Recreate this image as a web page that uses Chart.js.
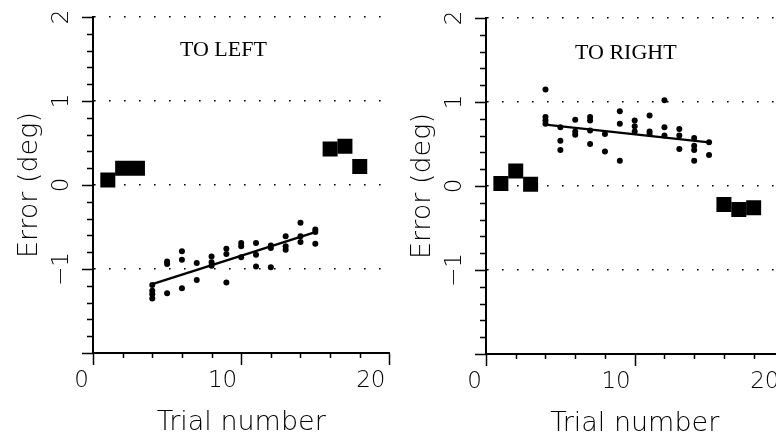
<!DOCTYPE html>
<html>
<head>
<meta charset="utf-8">
<script src="https://cdn.jsdelivr.net/npm/chart.js@4.4.0/dist/chart.umd.min.js"></script>
<style>
html,body{margin:0;padding:0;background:#fff;}
#wrap{position:relative;width:776px;height:434px;overflow:hidden;background:#fff;}
canvas{position:absolute;top:0;}
#c1{left:0;width:400px;height:434px;}
#c2{left:393px;top:1px;width:401px;height:434px;}
</style>
</head>
<body>
<div id="wrap">
<canvas id="c1" width="400" height="434"></canvas>
<canvas id="c2" width="401" height="434"></canvas>
</div>
<script>
// ---------- data ----------
const panelTitles = ['TO LEFT', 'TO RIGHT'];

const xTickValues = [0, 10, 20];
const xTickLabels = ['0', '10', '20'];
const yTickValues = [-2, -1, 0, 1, 2];
const yTickLabels = ['', '\u22121', '0', '1', '2'];

const squareX = [1, 2, 3, 16, 17, 18];
const leftSquareY = [0.06, 0.20, 0.20, 0.43, 0.46, 0.22];
const rightSquareY = [0.03, 0.18, 0.02, -0.22, -0.28, -0.26];

const leftDotX = [4, 4, 4, 4, 5, 5, 5, 6, 6, 6, 7, 7, 8, 8, 8, 9, 9, 9,
                  10, 10, 10, 11, 11, 11, 12, 12, 12, 13, 13, 13, 14, 14, 14, 15, 15, 15];
const leftDotY = [-1.19, -1.26, -1.30, -1.35, -0.91, -0.94, -1.29, -0.79, -0.89, -1.23,
                  -0.93, -1.13, -0.85, -0.92, -0.96, -0.76, -0.82, -1.16,
                  -0.69, -0.73, -0.86, -0.69, -0.83, -0.97, -0.72, -0.75, -0.98,
                  -0.61, -0.73, -0.77, -0.45, -0.61, -0.68, -0.53, -0.56, -0.70];

const rightDotX = [4, 4, 4, 4, 5, 5, 5, 6, 6, 6, 7, 7, 7, 7, 8, 8, 9, 9, 9,
                   10, 10, 10, 11, 11, 11, 12, 12, 12, 13, 13, 13, 14, 14, 14, 14, 15, 15];
const rightDotY = [1.15, 0.82, 0.78, 0.74, 0.70, 0.54, 0.43, 0.79, 0.65, 0.61,
                   0.82, 0.78, 0.66, 0.50, 0.62, 0.41, 0.89, 0.74, 0.30,
                   0.78, 0.71, 0.65, 0.84, 0.65, 0.62, 1.02, 0.70, 0.60,
                   0.68, 0.60, 0.44, 0.57, 0.48, 0.43, 0.30, 0.52, 0.37];

const leftFitX = [4, 15];
const leftFitY = [-1.18, -0.56];
const rightFitX = [4, 15];
const rightFitY = [0.73, 0.52];

// ---------- helpers ----------
const FONT = "'DejaVu Sans', sans-serif";
function pts(xs, ys) { return xs.map((x, i) => ({x: x, y: ys[i]})); }

const axisDecor = {
  id: 'axisDecor',
  afterDraw(chart, args, opts) {
    const {ctx, chartArea: a} = chart;
    const x = chart.scales.x, y = chart.scales.y;
    ctx.save();
    ctx.strokeStyle = '#000';
    ctx.lineWidth = 1.5;
    ctx.beginPath();
    for (let i = 0; i <= 10; i++) {
      const v = i * 2;
      const px = Math.round(x.getPixelForValue(v)) + 0.5;
      const len = (v % 10 === 0) ? 12 : 5;
      ctx.moveTo(px, a.bottom);
      ctx.lineTo(px, a.bottom + len);
    }
    for (let i = -10; i <= 10; i++) {
      const py = Math.round(y.getPixelForValue(i / 5)) + 0.5;
      const len = (i % 5 === 0) ? 11 : 6;
      ctx.moveTo(a.left, py);
      ctx.lineTo(a.left - len, py);
    }
    ctx.stroke();
    ctx.restore();

    ctx.save();
    ctx.font = opts.font;
    ctx.fillStyle = '#000';
    ctx.textAlign = 'center';
    ctx.textBaseline = 'middle';
    ctx.fillText(opts.text, x.getPixelForValue(opts.x), y.getPixelForValue(opts.y));
    ctx.restore();
  }
};

function makeChart(id, title, sqY, dX, dY, fX, fY, tx, ty) {
  return new Chart(document.getElementById(id), {
    type: 'scatter',
    data: {
      datasets: [
        {data: pts(squareX, sqY), pointStyle: 'rect', pointRadius: 10.6, pointHoverRadius: 10.6,
         backgroundColor: '#000', borderWidth: 0},
        {data: pts(dX, dY), pointStyle: 'circle', pointRadius: 3, pointHoverRadius: 3,
         backgroundColor: '#000', borderWidth: 0},
        {data: pts(fX, fY), showLine: true, borderColor: '#000', borderWidth: 2.4,
         pointRadius: 0, pointHoverRadius: 0, fill: false}
      ]
    },
    options: {
      responsive: false,
      animation: false,
      devicePixelRatio: 1,
      layout: {padding: {top: 17, right: 10, left: 0, bottom: 0}},
      plugins: {
        legend: {display: false},
        tooltip: {enabled: false},
        axisDecor: {text: title, x: tx, y: ty, font: "22px 'Liberation Serif', serif"}
      },
      scales: {
        x: {
          type: 'linear', min: 0, max: 20,
          afterFit(s) { s.height = 81; s.paddingLeft = 0; s.paddingRight = 0; },
          afterBuildTicks(s) { s.ticks = xTickValues.map(v => ({value: v})); },
          ticks: {
            callback: (v) => { const i = xTickValues.indexOf(v); return i >= 0 ? xTickLabels[i] : ''; },
            align: 'end', labelOffset: -4, padding: 14, maxRotation: 0, autoSkip: false,
            color: '#000', font: {family: FONT, size: 23, weight: 200}
          },
          grid: {display: false, drawTicks: false},
          border: {display: true, color: '#000', width: 2},
          title: {display: true, text: 'Trial number', color: '#000',
                  font: {family: FONT, size: 27, weight: 200, lineHeight: 1},
                  padding: {top: 0, bottom: -2}}
        },
        y: {
          type: 'linear', min: -2, max: 2,
          afterFit(s) { s.width = 93; s.paddingTop = 0; s.paddingBottom = 0; },
          afterBuildTicks(s) { s.ticks = yTickValues.map(v => ({value: v})); },
          ticks: {
            callback: (v) => { const i = yTickValues.indexOf(v); return i >= 0 ? yTickLabels[i] : ''; },
            minRotation: 90, maxRotation: 90, crossAlign: 'center', padding: 14, autoSkip: false,
            color: '#000', font: {family: FONT, size: 23, weight: 200}
          },
          grid: {
            drawTicks: false,
            color: (c) => (c.tick && c.tick.value > -2) ? '#000' : 'rgba(0,0,0,0)',
            lineWidth: 1.6
          },
          border: {display: true, color: '#000', width: 2, dash: [1.6, 13.4], dashOffset: 0},
          title: {display: true, text: 'Error (deg)', color: '#000',
                  font: {family: FONT, size: 27, weight: 200, lineHeight: 1},
                  padding: {top: 16, bottom: 0}}
        }
      }
    },
    plugins: [axisDecor]
  });
}

makeChart('c1', panelTitles[0], leftSquareY, leftDotX, leftDotY, leftFitX, leftFitY, 8.8, 1.61);
makeChart('c2', panelTitles[1], rightSquareY, rightDotX, rightDotY, rightFitX, rightFitY, 9.4, 1.58);
</script>
</body>
</html>
